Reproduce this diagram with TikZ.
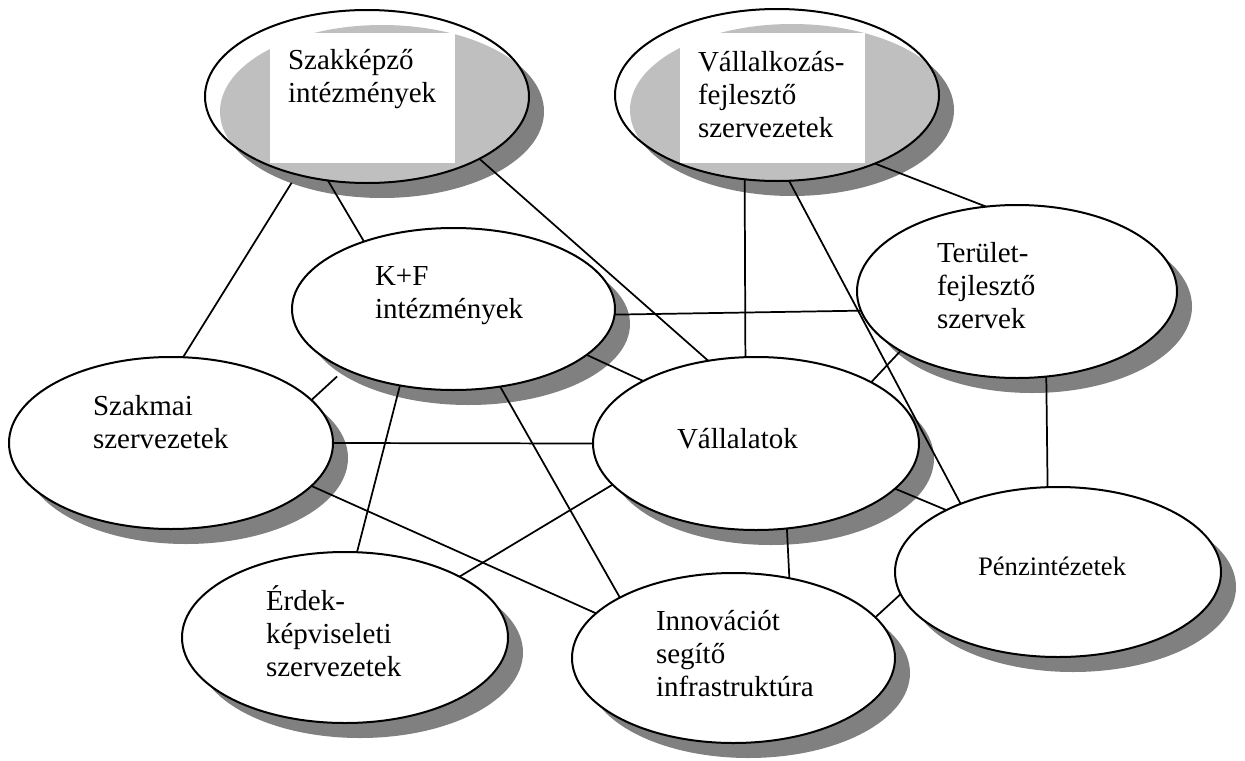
\documentclass[tikz,border=0pt]{standalone}
\usepackage{fontspec}
\setmainfont{Liberation Serif}
\usetikzlibrary{shapes.geometric,shadows}
\definecolor{shadowgray}{HTML}{808080}

% stacked lines with a fixed baseline distance; the first baseline is the box baseline
\newcommand\txtlines[1]{\vtop{\baselineskip=24.75pt\lineskiplimit=-\maxdimen #1}}

\begin{document}
\begin{tikzpicture}[x=0.75pt,y=-0.75pt,
  org/.style 2 args={ellipse, draw=black, line width=1.5pt, fill=white,
    inner sep=0pt, outer sep=0pt, minimum width=#1*1.5pt, minimum height=#2*1.5pt,
    drop shadow={shadow xshift=11.25pt, shadow yshift=-11.25pt, fill=shadowgray, opacity=1}},
  see/.style={fill opacity=0.5},
  link/.style={line width=1.3pt, draw=black},
  txt/.style={anchor=base west, inner sep=0pt, outer sep=0pt,
    font=\fontsize{21.75pt}{24.75pt}\selectfont},
  box/.style={fill=white, inner sep=0pt, outer sep=0pt, anchor=north west,
    minimum width=138.75pt, minimum height=97.5pt}]

\useasboundingbox (0,0) rectangle (1245,760);

% organisations
\node[org={162}{86.5}, see] (szk) at (367,96.5) {};
\node[org={162}{86}, see]   (vf)  at (777,95) {};
\node[org={161.5}{81}]      (kf)  at (453.5,309) {};
\node[org={162}{86}]        (szm) at (171,443) {};
\node[org={163}{86.5}]      (val) at (756,443.5) {};
\node[org={160}{86.5}]      (ter) at (1017,291.5) {};
\node[org={163}{85}]        (pen) at (1058,572) {};
\node[org={163}{85.5}]      (erd) at (345,637.5) {};
\node[org={161.5}{85}]      (inn) at (733.5,658) {};

% connections
\draw[link, shorten >=7.4pt] (szm.82) -- (szk.228.2);
\draw[link] (szk.245.1) -- (kf.143.45);
\draw[link] (szk.331.25) -- (val.120.1);
\draw[link] (vf.249.2) -- (val.97.3);
\draw[link] (vf.278.6) -- (pen.145.9);
\draw[link] (vf.325) -- (ter.110.3);
\draw[link] (kf.358.6) -- (ter.187.9);
\draw[link, shorten >=8.2pt] (szm.17.4) -- (kf.209.5);
\draw[link] (kf.341.3) -- (val.151.3);
\draw[link] (kf.235.7) -- (erd.82.1);
\draw[link] (kf.301) -- (inn.152.9);
\draw[link] (szm.0) -- (val.180);
\draw[link] (szm.343.5) -- (inn.162.4);
\draw[link] (val.196.8) -- (erd.28.5);
\draw[link] (val.290.7) -- (inn.55.5);
\draw[link] (val.28.2) -- (ter.207.8);
\draw[link] (val.342.9) -- (pen.151.5);
\draw[link] (ter.289.4) -- (pen.97.4);
\draw[link] (inn.16.9) -- (pen.188.1);

% white text boxes inside the two upper ellipses
\node[box] (szk-box) at (270,33) {};
\node[box] (vf-box) at (680,33) {};

% labels
\node[txt] (szk-t) at (288,69) {\txtlines{\hbox{Szakképző}\hbox{intézmények}}};
\node[txt] (vf-t) at (698,71) {\txtlines{\hbox{Vállalkozás-}\hbox{fejlesztő}\hbox{szervezetek}}};
\node[txt] (kf-t) at (375,285) {\txtlines{\hbox{K+F}\hbox{intézmények}}};
\node[txt] (szm-t) at (93,415) {\txtlines{\hbox{Szakmai}\hbox{szervezetek}}};
\node[txt] (val-t) at (677,448) {Vállalatok};
\node[txt] (ter-t) at (937,262) {\txtlines{\hbox{Terület-}\hbox{fejlesztő}\hbox{szervek}}};
\node[txt, font=\fontsize{20pt}{24pt}\selectfont] (pen-t) at (978,575) {Pénzintézetek};
\node[txt] (erd-t) at (266,610) {\txtlines{\hbox{Érdek-}\hbox{képviseleti}\hbox{szervezetek}}};
\node[txt] (inn-t) at (656,630) {\txtlines{\hbox{Innovációt}\hbox{segítő}\hbox{infrastruktúra}}};
\end{tikzpicture}
\end{document}
